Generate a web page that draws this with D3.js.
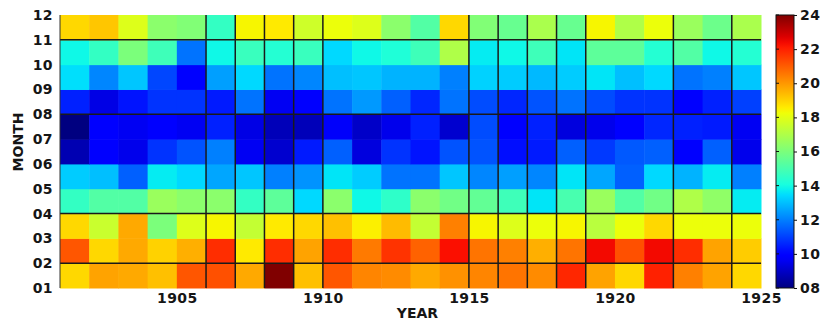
<!DOCTYPE html>
<html>
<head>
<meta charset="utf-8">
<script src="https://cdn.jsdelivr.net/npm/d3@7"></script>
<style>
  body { margin: 0; background: #fff; }
  text { font-family: "DejaVu Sans", sans-serif; font-weight: bold; fill: #151515; }
</style>
</head>
<body>
<svg id="chart" width="823" height="321"></svg>
<script>
// years are the left edge of each cell column (1901..1924), months the bottom edge of each row
const years = [1901, 1902, 1903, 1904, 1905, 1906, 1907, 1908, 1909, 1910, 1911, 1912,
               1913, 1914, 1915, 1916, 1917, 1918, 1919, 1920, 1921, 1922, 1923, 1924];

const m01 = [18.9, 19.8, 19.7, 19.3, 21.1, 21.2, 19.7, 24.0, 19.3, 21.1, 20.3, 20.2,
             19.7, 20.1, 20.3, 20.6, 20.2, 21.9, 19.8, 18.9, 22.0, 20.4, 19.8, 18.9];
const m02 = [21.1, 18.9, 19.7, 19.0, 19.6, 21.8, 18.6, 21.8, 19.8, 21.8, 20.5, 21.7,
             20.9, 22.3, 20.6, 20.4, 19.6, 20.6, 22.4, 21.2, 22.4, 21.8, 19.8, 19.1];
const m03 = [18.9, 17.5, 19.7, 16.0, 17.9, 18.4, 17.4, 18.6, 18.9, 19.3, 18.5, 19.4,
             17.4, 20.4, 18.4, 17.9, 18.2, 18.4, 17.2, 18.2, 18.9, 18.2, 18.2, 18.2];
const m04 = [14.6, 15.2, 15.2, 16.6, 16.3, 16.3, 14.6, 15.4, 13.4, 16.3, 13.9, 14.5,
             16.3, 15.8, 15.5, 14.8, 13.6, 15.0, 16.6, 15.2, 15.8, 17.0, 16.4, 13.7];
const m05 = [13.2, 13.0, 11.5, 13.7, 13.4, 12.6, 13.1, 12.0, 12.3, 13.6, 13.2, 11.8,
             11.8, 13.1, 12.1, 12.5, 12.1, 13.6, 12.6, 11.5, 13.4, 12.8, 13.7, 12.0];
const m06 = [8.7, 10.0, 9.5, 10.8, 11.3, 12.0, 9.6, 9.1, 10.4, 11.5, 9.3, 10.8,
             10.3, 11.3, 11.3, 10.2, 10.4, 11.5, 10.9, 11.4, 11.5, 9.8, 11.5, 9.5];
const m07 = [8.0, 10.0, 9.6, 9.8, 9.6, 10.5, 9.4, 8.8, 8.8, 9.7, 9.0, 9.5,
             10.5, 9.1, 11.2, 10.0, 10.5, 9.3, 9.5, 9.9, 10.6, 10.5, 10.4, 9.6];
const m08 = [10.5, 9.4, 10.3, 10.8, 10.8, 10.4, 11.8, 9.6, 9.9, 11.8, 12.4, 11.5,
             10.6, 11.8, 11.2, 10.6, 11.3, 11.8, 11.2, 10.8, 10.8, 10.0, 10.5, 11.0];
const m09 = [13.5, 12.1, 13.1, 11.1, 9.8, 12.5, 13.4, 11.8, 12.1, 13.0, 13.1, 12.8,
             12.8, 12.0, 13.3, 13.2, 12.9, 13.2, 13.6, 13.0, 13.4, 11.8, 12.0, 13.1];
const m10 = [13.9, 14.6, 16.0, 14.8, 11.8, 13.9, 14.7, 14.3, 14.7, 13.4, 13.9, 14.2,
             14.8, 17.0, 13.7, 13.9, 14.8, 13.6, 15.4, 15.4, 14.3, 15.2, 13.9, 14.3];
const m11 = [18.9, 19.2, 17.9, 16.3, 16.1, 14.6, 18.4, 18.6, 17.6, 18.2, 17.9, 16.3,
             15.2, 18.9, 16.1, 15.6, 16.9, 15.6, 18.4, 17.0, 18.2, 16.6, 15.7, 16.9];

const rows = [m01, m02, m03, m04, m05, m06, m07, m08, m09, m10, m11];

const xTicks = [1905, 1910, 1915, 1920, 1925];
const yTicks = [1, 2, 3, 4, 5, 6, 7, 8, 9, 10, 11, 12];
const cTicks = [8, 10, 12, 14, 16, 18, 20, 22, 24];
const vLines = [1906, 1907, 1908, 1909, 1910, 1915, 1916, 1917, 1918, 1919, 1922, 1924];
const hLines = [2, 4, 8, 11];

// matplotlib "jet"
const jetR = [[0, 0], [0.35, 0], [0.66, 1], [0.89, 1], [1, 0.5]];
const jetG = [[0, 0], [0.125, 0], [0.375, 1], [0.64, 1], [0.91, 0], [1, 0]];
const jetB = [[0, 0.5], [0.11, 1], [0.34, 1], [0.65, 0], [1, 0]];
function seg(s, t) {
  for (let i = 1; i < s.length; i++) {
    if (t <= s[i][0]) {
      const a = s[i - 1], b = s[i];
      return a[1] + (b[1] - a[1]) * (t - a[0]) / (b[0] - a[0]);
    }
  }
  return s[s.length - 1][1];
}
function jet(t) {
  t = Math.max(0, Math.min(1, t));
  return d3.rgb(255 * seg(jetR, t), 255 * seg(jetG, t), 255 * seg(jetB, t)).formatHex();
}

const pLeft = 60, pRight = 761, pTop = 15, pBottom = 288;

const svg = d3.select("#chart");

const x = d3.scaleLinear().domain([1901, 1925]).range([pLeft, pRight]);
const y = d3.scaleLinear().domain([1, 12]).range([pBottom, pTop]);
const color = d3.scaleSequential(jet).domain([8, 24]);

const cells = [];
rows.forEach((vals, i) => vals.forEach((v, j) => cells.push({ year: years[j], month: i + 1, value: v })));

svg.append("g")
  .selectAll("rect")
  .data(cells)
  .enter()
  .append("rect")
  .attr("x", d => x(d.year))
  .attr("y", d => y(d.month + 1))
  .attr("width", d => x(d.year + 1) - x(d.year) + 0.5)
  .attr("height", d => y(d.month) - y(d.month + 1) + 0.5)
  .attr("fill", d => color(d.value));

// black grid lines
svg.append("g")
  .selectAll("line")
  .data(vLines)
  .enter()
  .append("line")
  .attr("x1", d => x(d)).attr("x2", d => x(d))
  .attr("y1", pTop).attr("y2", pBottom)
  .attr("stroke", "#1a1a1a").attr("stroke-width", 1.5);

svg.append("g")
  .selectAll("line")
  .data(hLines)
  .enter()
  .append("line")
  .attr("x1", pLeft).attr("x2", pRight)
  .attr("y1", d => y(d)).attr("y2", d => y(d))
  .attr("stroke", "#1a1a1a").attr("stroke-width", 1.5);

svg.append("line")
  .attr("x1", pLeft).attr("x2", pLeft).attr("y1", pTop).attr("y2", pBottom)
  .attr("stroke", "#333").attr("stroke-width", 1);

// axes
const xAxis = svg.append("g")
  .attr("transform", "translate(0," + pBottom + ")")
  .call(d3.axisBottom(x).tickValues(xTicks).tickFormat(d3.format("d")).tickSize(0).tickPadding(5));
xAxis.select(".domain").remove();

const yAxis = svg.append("g")
  .attr("transform", "translate(" + pLeft + ",0)")
  .call(d3.axisLeft(y).tickValues(yTicks).tickFormat(d3.format("02d")).tickSize(0).tickPadding(7));
yAxis.select(".domain").remove();

svg.selectAll(".tick text").attr("font-size", 14).attr("font-family", null).style("letter-spacing", "0.4px");

svg.append("text")
  .attr("x", (pLeft + pRight) / 2 + 7)
  .attr("y", 318)
  .attr("text-anchor", "middle")
  .attr("font-size", 14)
  .text("YEAR");

svg.append("text")
  .attr("transform", "translate(23,142) rotate(-90)")
  .attr("text-anchor", "middle")
  .attr("font-size", 14)
  .text("MONTH");

// colour bar
const cb = { x: 776, w: 18 };
const cy = d3.scaleLinear().domain([8, 24]).range([pBottom, pTop]);

const grad = svg.append("defs").append("linearGradient")
  .attr("id", "jetGrad")
  .attr("x1", 0).attr("y1", 1).attr("x2", 0).attr("y2", 0);
grad.selectAll("stop")
  .data(d3.range(0, 1.0001, 0.02))
  .enter()
  .append("stop")
  .attr("offset", d => d)
  .attr("stop-color", d => jet(d));

svg.append("rect")
  .attr("x", cb.x).attr("y", pTop)
  .attr("width", cb.w).attr("height", pBottom - pTop)
  .attr("fill", "url(#jetGrad)")
  .attr("stroke", "#111").attr("stroke-width", 1);

const cAxis = svg.append("g")
  .attr("transform", "translate(" + (cb.x + cb.w) + ",0)")
  .call(d3.axisRight(cy).tickValues(cTicks).tickFormat(d3.format("02d")).tickSize(3).tickPadding(3));
cAxis.select(".domain").remove();
cAxis.selectAll(".tick line").attr("stroke", "#111");
cAxis.selectAll(".tick text").attr("font-size", 14).attr("font-family", null).style("letter-spacing", "0.4px");

svg.append("g")
  .selectAll("line")
  .data(cTicks)
  .enter()
  .append("line")
  .attr("x1", cb.x).attr("x2", cb.x + 3)
  .attr("y1", d => cy(d)).attr("y2", d => cy(d))
  .attr("stroke", "#111");
</script>
</body>
</html>
